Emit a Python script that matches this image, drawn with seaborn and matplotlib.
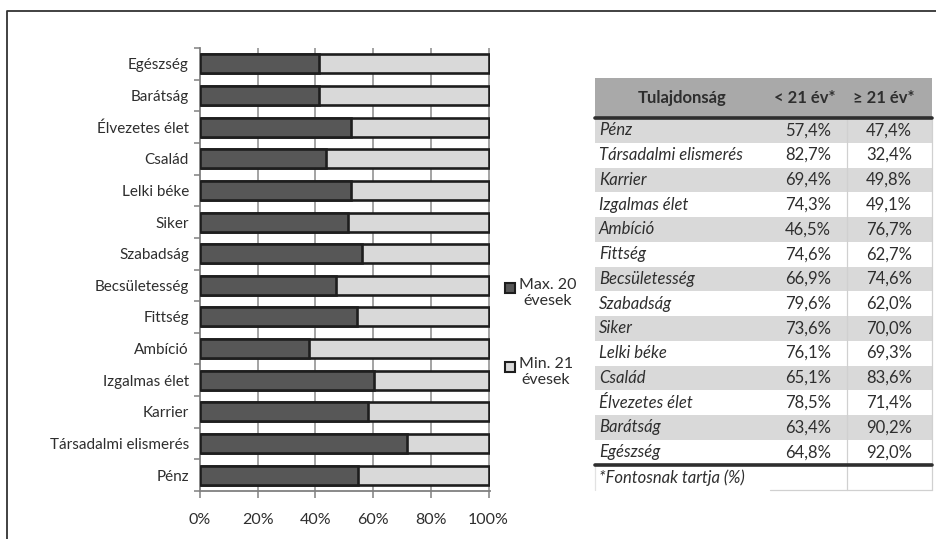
import numpy as np
import pandas as pd
import matplotlib
matplotlib.use('Agg')
import matplotlib.pyplot as plt
from matplotlib.patches import Rectangle
import seaborn as sns

# ============================================
# 数据（表格顺序：从上到下）
# ============================================
TRAITS = ['Pénz', 'Társadalmi elismerés', 'Karrier', 'Izgalmas élet', 'Ambíció',
          'Fittség', 'Becsületesség', 'Szabadság', 'Siker', 'Lelki béke',
          'Család', 'Élvezetes élet', 'Barátság', 'Egészség']
UNDER_21 = [57.4, 82.7, 69.4, 74.3, 46.5, 74.6, 66.9, 79.6, 73.6, 76.1, 65.1, 78.5, 63.4, 64.8]
OVER_21 = [47.4, 32.4, 49.8, 49.1, 76.7, 62.7, 74.6, 62.0, 70.0, 69.3, 83.6, 71.4, 90.2, 92.0]

HEADERS = ['Tulajdonság', '< 21 év*', '≥ 21 év*']
FOOTNOTE = '*Fontosnak tartja (%)'
LEGEND_LABELS = ['Max. 20\névesek', 'Min. 21\névesek']
X_TICKS = [0, 20, 40, 60, 80, 100]
X_TICKLABELS = ['0%', '20%', '40%', '60%', '80%', '100%']

DARK = '#575757'
LIGHT = '#d9d9d9'
EDGE = '#1e1e1e'
TEXT = '#2e2e2e'
FONT = ['Lato', 'DejaVu Sans']

sns.set_theme(style='white')
plt.rcParams['font.family'] = FONT

W, H = 936, 539
fig = plt.figure(figsize=(W / 100, H / 100), dpi=100)

# 像素坐标覆盖层（表格、图例、边框）
ov = fig.add_axes([0, 0, 1, 1], zorder=-1)
ov.set_xlim(0, W)
ov.set_ylim(H, 0)
ov.axis('off')

# ============================================
# 100% 堆积条形图（图表中顺序与表格相反）
# ============================================
df = pd.DataFrame({'trait': TRAITS, 'u': UNDER_21, 'o': OVER_21})
df['share'] = df['u'] / (df['u'] + df['o']) * 100
df['total'] = 100.0
df = df.iloc[::-1].reset_index(drop=True)

ax = fig.add_axes([200 / W, 1 - 491 / H, 290 / W, 443 / H])
ax.set_facecolor('none')
for v in X_TICKS[1:]:
    ax.axvline(v, color='#8a8a8a', lw=1.1, zorder=0)
sns.barplot(data=df, x='total', y='trait', order=list(df['trait']), color=LIGHT,
            saturation=1, width=0.6, edgecolor=EDGE, linewidth=1.9, ax=ax, zorder=2)
sns.barplot(data=df, x='share', y='trait', order=list(df['trait']), color=DARK,
            saturation=1, width=0.6, edgecolor=EDGE, linewidth=1.9, ax=ax, zorder=3)

ax.set_xlim(0, 100.5)
ax.set_ylim(len(df) - 0.5, -0.5)
ax.set_xlabel('')
ax.set_ylabel('')
ax.set_xticks(X_TICKS)
ax.set_xticklabels(X_TICKLABELS, fontsize=11.5, color=TEXT)
ax.set_yticks(np.arange(len(df)))
ax.set_yticklabels(df['trait'], fontsize=11, color=TEXT)
ax.set_yticks(np.arange(len(df) + 1) - 0.5, minor=True)
ax.tick_params(axis='y', which='major', length=0, pad=8)
ax.tick_params(axis='y', which='minor', length=4, color='#808080', width=1.1, left=True, direction='out')
ax.tick_params(axis='x', length=5, color='#808080', width=1.1, bottom=True, direction='out', pad=11)
for s in ['top', 'right']:
    ax.spines[s].set_visible(False)
for s in ['left', 'bottom']:
    ax.spines[s].set_color('#808080')
    ax.spines[s].set_linewidth(1.3)

# ============================================
# 图例
# ============================================
for (y0, label, fc) in [(283, LEGEND_LABELS[0], DARK), (362, LEGEND_LABELS[1], LIGHT)]:
    ov.add_patch(Rectangle((505, y0), 10, 10, facecolor=fc, edgecolor=EDGE, lw=1.5))
    ov.text(519, y0 - 5, label, ha='left', va='top', multialignment='center',
            fontsize=11.5, color=TEXT, linespacing=1.2)

# ============================================
# 表格
# ============================================
TL, TR = 595, 932
C1, C2 = 847, 932
HEAD_TOP, HEAD_BOT = 78, 118
ROW_H = 24.75
FS = 12

ov.add_patch(Rectangle((TL, HEAD_TOP), TR - TL, HEAD_BOT - HEAD_TOP, facecolor='#a9a9a9', lw=0))
ov.text(682, 98, HEADERS[0], ha='center', va='center', fontsize=FS, fontweight='bold', color=TEXT)
ov.text(805, 98, HEADERS[1], ha='center', va='center', fontsize=FS, fontweight='bold', color=TEXT)
ov.text(884, 98, HEADERS[2], ha='center', va='center', fontsize=FS, fontweight='bold', color=TEXT)

for i, (name, u, o) in enumerate(zip(TRAITS, UNDER_21, OVER_21)):
    top = HEAD_BOT + i * ROW_H
    if i % 2 == 0:
        ov.add_patch(Rectangle((TL, top), TR - TL, ROW_H, facecolor='#d9d9d9', lw=0))
    yc = top + ROW_H / 2
    ov.text(599, yc, name, ha='left', va='center', fontsize=FS, style='italic', color=TEXT)
    ov.text(831, yc, f'{u:.1f}%'.replace('.', ','), ha='right', va='center', fontsize=FS, color=TEXT)
    ov.text(912, yc, f'{o:.1f}%'.replace('.', ','), ha='right', va='center', fontsize=FS, color=TEXT)

body_bot = HEAD_BOT + len(TRAITS) * ROW_H
foot_bot = body_bot + 25
ov.plot([C1, C1], [HEAD_BOT, foot_bot], color='#d0d0d0', lw=0.9)
ov.plot([C2, C2], [HEAD_BOT, foot_bot], color='#d0d0d0', lw=0.9)
ov.plot([TL, TL], [body_bot, foot_bot], color='#e2e2e2', lw=0.9)
ov.plot([770, TR], [foot_bot, foot_bot], color='#d0d0d0', lw=0.9)
ov.plot([TL, TR], [HEAD_BOT, HEAD_BOT], color=TEXT, lw=2.6)
ov.plot([TL, TR], [body_bot, body_bot], color=TEXT, lw=2.6)
ov.text(599, body_bot + 13, FOOTNOTE, ha='left', va='center', fontsize=FS, style='italic', color=TEXT)

# 外框
ov.plot([7, 7, W], [H, 11, 11], color='#333333', lw=1.3)

fig.savefig('out.png', dpi=100)
